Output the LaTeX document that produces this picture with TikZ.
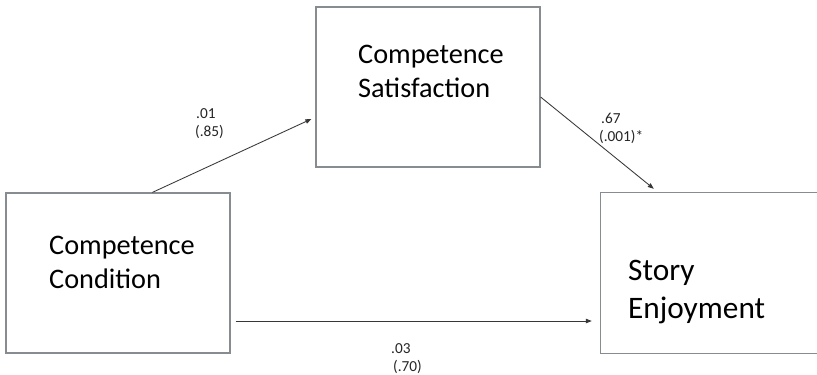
\documentclass[tikz,border=0pt]{standalone}
\usepackage{fontspec}
\setmainfont{Carlito}
\usetikzlibrary{arrows.meta,calc}
\definecolor{boxline}{RGB}{135,140,145}
\definecolor{arrline}{RGB}{55,55,55}
\tikzset{
  box/.style={draw=boxline, line width=1.2pt, rectangle, inner sep=0pt},
  openbox/.style={rectangle, inner sep=0pt},
  boxtext/.style={anchor=base west, inner sep=0pt, font=\fontsize{28.3}{34}\selectfont},
  bigtext/.style={anchor=base west, inner sep=0pt, font=\fontsize{31.3}{38}\selectfont},
  coef/.style={anchor=base west, inner sep=0pt, font=\fontsize{15.3}{18}\selectfont, text=black!85},
  arr/.style={draw=arrline, line width=0.85pt, -{Triangle[length=6pt,width=4.5pt]}}
}
\begin{document}
\begin{tikzpicture}[x=1pt,y=-1pt]
\useasboundingbox (0,0) rectangle (817,375);
\fill[white] (0,0) rectangle (817,375);
% boxes
\node[box, minimum width=224pt, minimum height=160pt] (b1) at (118,273) {};
\node[box, minimum width=224pt, minimum height=160pt] (b2) at (428,87) {};
\node[openbox, minimum width=216pt, minimum height=160pt] (b3) at (709,273) {};
\draw[draw=boxline, line width=1.2pt] (b3.north east) -- (b3.north west) -- (b3.south west) -- (b3.south east);
% box texts
\node[boxtext] (t1a) at (49,254) {Competence};
\node[boxtext] (t1b) at (49,288) {Condition};
\node[boxtext] (t2a) at (358,63) {Competence};
\node[boxtext] (t2b) at (358,97) {Satisfaction};
\node[bigtext] (t3a) at (628,280) {Story};
\node[bigtext] (t3b) at (628,318) {Enjoyment};
% connector endpoints
\coordinate (s1) at ($(b1.north west)+(147,0)$);
\coordinate (e1) at ($(b2.west)+(-4,32)$);
\coordinate (s2) at ($(b2.east)+(0,10)$);
\coordinate (e2) at ($(b3.north west)+(53,-4)$);
\coordinate (s3) at ($(b1.east)+(5,48)$);
\coordinate (e3) at ($(b3.west)+(-9,48)$);
\draw[arr] (s1) -- (e1);
\draw[arr] (s2) -- (e2);
\draw[arr] (s3) -- (e3);
% coefficients
\node[coef] (c1a) at (196,118) {.01};
\node[coef] (c1b) at (195,136) {(.85)};
\node[coef] (c2a) at (601,123) {.67};
\node[coef] (c2b) at (599,141) {(.001)*};
\node[coef] (c3a) at (391,353) {.03};
\node[coef] (c3b) at (393,371) {(.70)};
\end{tikzpicture}
\end{document}
